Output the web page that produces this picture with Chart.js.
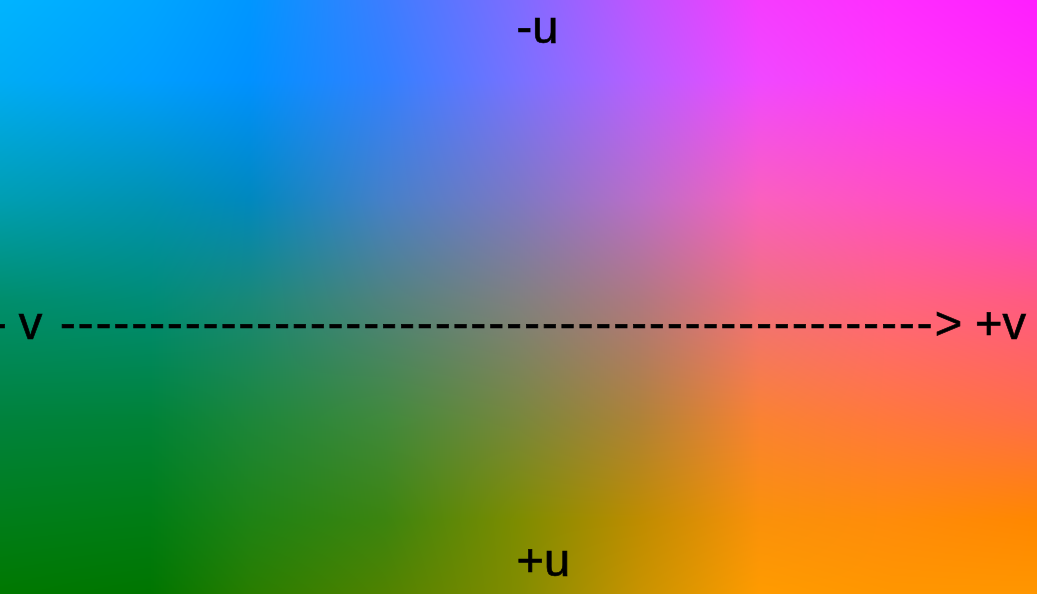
<!DOCTYPE html>
<html>
<head>
<meta charset="utf-8">
<title>u / v colour plane</title>
<script src="https://cdn.jsdelivr.net/npm/chart.js@4.4.1/dist/chart.umd.min.js"></script>
<style>
  html, body { margin: 0; padding: 0; background: #fff; overflow: hidden; }
  #plane { display: block; }
</style>
</head>
<body>
<canvas id="plane" width="1037" height="594"></canvas>
<script>
"use strict";
// where the colours were sampled: v runs left to right, u runs top (-u) to bottom (+u)
const vSamples = [-1, -0.711, -0.518, -0.257, 0, 0.234, 0.466, 0.717, 1];
const uSamples = [-1, -0.731, -0.327, 0.01, 0.414, 0.751, 1];

// colours, one row per u sample
const rowU0 = [[0,180,255],[0,165,255],[0,150,255],[60,125,255],[125,108,255],[190,85,255],[245,60,255],[255,45,255],[255,30,255]];
const rowU1 = [[0,172,245],[0,158,255],[0,145,255],[50,128,255],[120,113,255],[182,95,255],[240,72,255],[255,55,250],[255,42,245]];
const rowU2 = [[0,158,178],[0,146,178],[0,136,190],[70,128,200],[125,120,195],[185,110,200],[250,96,190],[255,80,195],[255,65,205]];
const rowU3 = [[0,142,108],[0,140,118],[25,136,120],[80,130,125],[128,128,128],[175,120,128],[240,112,125],[255,100,128],[255,90,130]];
const rowU4 = [[0,130,60],[0,130,55],[28,134,58],[65,137,60],[120,135,60],[175,130,55],[250,130,50],[255,120,60],[255,110,70]];
const rowU5 = [[0,125,25],[0,124,20],[30,130,20],[60,132,15],[125,140,0],[190,140,0],[250,145,10],[255,140,10],[255,135,0]];
const rowU6 = [[0,120,0],[0,117,0],[40,125,0],[80,130,0],[130,140,0],[200,147,0],[255,155,0],[255,150,0],[255,150,0]];
const colourRows = [rowU0, rowU1, rowU2, rowU3, rowU4, rowU5, rowU6];

// axis words written on the plane
const uLabels = ['-u', '+u'];
const vLabels = ['-v', '+v'];
const arrowDashes = 49;

var gridPoints = [];
for (let r = 0; r < uSamples.length; r++) {
    for (let c = 0; c < vSamples.length; c++) {
        gridPoints.push({x: vSamples[c], y: uSamples[r]});
    }
}

function findSpan(samples, value) {
    var i = 0;
    while (i < samples.length - 2 && value > samples[i + 1]) i++;
    var t = (value - samples[i]) / (samples[i + 1] - samples[i]);
    if (t < 0) t = 0;
    if (t > 1) t = 1;
    return [i, t];
}

const colourField = {
    id: 'colourField',
    beforeDatasetsDraw(chart) {
        const ctx = chart.ctx;
        const xs = chart.scales.x;
        const ys = chart.scales.y;
        const area = chart.chartArea;
        const w = Math.round(area.right - area.left);
        const h = Math.round(area.bottom - area.top);
        const img = ctx.createImageData(w, h);
        var colSpan = [];
        for (let px = 0; px < w; px++) {
            colSpan.push(findSpan(vSamples, xs.getValueForPixel(area.left + px + 0.5)));
        }
        for (let py = 0; py < h; py++) {
            const rs = findSpan(uSamples, ys.getValueForPixel(area.top + py + 0.5));
            const ra = colourRows[rs[0]];
            const rb = colourRows[rs[0] + 1];
            for (let px = 0; px < w; px++) {
                const cs = colSpan[px];
                const c = cs[0], t = cs[1], s = rs[1];
                const k = (py * w + px) * 4;
                for (let ch = 0; ch < 3; ch++) {
                    const top = ra[c][ch] + (ra[c + 1][ch] - ra[c][ch]) * t;
                    const bot = rb[c][ch] + (rb[c + 1][ch] - rb[c][ch]) * t;
                    img.data[k + ch] = top + (bot - top) * s;
                }
                img.data[k + 3] = 255;
            }
        }
        ctx.putImageData(img, area.left, area.top);
    }
};

function word(ctx, text, x, y) {
    ctx.fillText(text, x, y);
    ctx.strokeText(text, x, y);
}

const axisWords = {
    id: 'axisWords',
    afterDraw(chart) {
        const ctx = chart.ctx;
        const xs = chart.scales.x;
        const ys = chart.scales.y;
        const mid = xs.getPixelForValue(0);
        const top = ys.getPixelForValue(-1);
        const bottom = ys.getPixelForValue(1);
        const left = xs.getPixelForValue(-1);
        const right = xs.getPixelForValue(1);
        const lineY = ys.getPixelForValue(0) + 42;
        ctx.save();
        ctx.fillStyle = '#000';
        ctx.strokeStyle = '#000';
        ctx.lineWidth = 0.7;
        ctx.textAlign = 'left';
        ctx.textBaseline = 'alphabetic';
        ctx.font = '47px "Liberation Sans", Arial, sans-serif';
        word(ctx, uLabels[0], mid - 2, top + 43);
        word(ctx, uLabels[1], mid - 2, bottom - 18);
        ctx.letterSpacing = '12px';
        word(ctx, vLabels[0], left - 9, lineY);
        ctx.letterSpacing = '2.2px';
        word(ctx, '-'.repeat(arrowDashes) + '>', left + 60, lineY);
        ctx.letterSpacing = '0px';
        word(ctx, vLabels[1], right - 62, lineY);
        ctx.restore();
    }
};

const planeChart = new Chart(document.getElementById('plane'), {
    type: 'scatter',
    data: {
        datasets: [{
            label: 'colour samples',
            data: gridPoints,
            pointRadius: 0,
            pointHoverRadius: 0
        }]
    },
    options: {
        responsive: false,
        animation: false,
        devicePixelRatio: 1,
        layout: {padding: 0},
        events: [],
        scales: {
            x: {type: 'linear', min: -1, max: 1, display: false},
            y: {type: 'linear', min: -1, max: 1, reverse: true, display: false}
        },
        plugins: {
            legend: {display: false},
            tooltip: {enabled: false}
        }
    },
    plugins: [colourField, axisWords]
});
</script>
</body>
</html>
